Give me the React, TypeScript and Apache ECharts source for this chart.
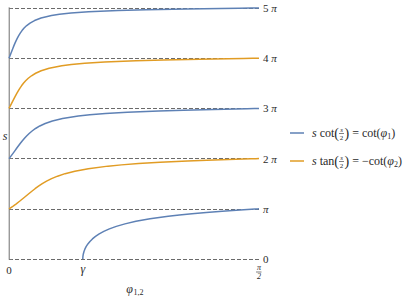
import React, { useEffect, useRef } from "react";
import * as echarts from "echarts";

// parameter u: fraction of the way through each branch (s = (k + u) * π)
const uSteps = [0, 0.02, 0.05, 0.1, 0.15, 0.2, 0.25, 0.3, 0.35, 0.4, 0.45, 0.5, 0.55, 0.6, 0.65, 0.7, 0.75, 0.8, 0.85, 0.875, 0.9, 0.925, 0.95, 0.965, 0.98, 0.99, 0.995, 0.998, 1];

// φ values (radians) read for each branch
const phiBlue0 = [0.46365, 0.46378, 0.46447, 0.46696, 0.47119, 0.47726, 0.48532, 0.49562, 0.50844, 0.52421, 0.54348, 0.56691, 0.59555, 0.63071, 0.67421, 0.72863, 0.79756, 0.88615, 1.00071, 1.07042, 1.14976, 1.23952, 1.3401, 1.40548, 1.47435, 1.52198, 1.54625, 1.56095, 1.570796];
const phiOrange1 = [0, 0.00981, 0.02385, 0.0458, 0.06636, 0.08598, 0.10509, 0.12412, 0.1435, 0.16371, 0.18534, 0.20911, 0.23597, 0.26728, 0.30499, 0.35217, 0.41377, 0.49842, 0.62187, 0.70647, 0.81346, 0.94967, 1.12154, 1.2433, 1.37775, 1.4729, 1.52161, 1.55108, 1.570796];
const phiBlue2 = [0, 0.00495, 0.01222, 0.024, 0.03553, 0.04698, 0.05853, 0.0704, 0.08282, 0.09606, 0.11051, 0.12664, 0.14513, 0.16694, 0.19356, 0.22738, 0.27249, 0.33657, 0.43542, 0.50785, 0.60602, 0.74345, 0.94062, 1.0971, 1.28466, 1.42429, 1.49703, 1.54122, 1.570796];
const phiOrange3 = [0, 0.00331, 0.00821, 0.01626, 0.02426, 0.03231, 0.04055, 0.04911, 0.05816, 0.06791, 0.07864, 0.0907, 0.1046, 0.1211, 0.14136, 0.16727, 0.20213, 0.25231, 0.33177, 0.39164, 0.47583, 0.60072, 0.79722, 0.96986, 1.19639, 1.37637, 1.47254, 1.53136, 1.570796];
const phiBlue4 = [0, 0.00249, 0.00619, 0.0123, 0.01841, 0.02462, 0.03101, 0.0377, 0.04481, 0.05251, 0.06102, 0.07062, 0.08173, 0.09496, 0.11125, 0.13214, 0.16039, 0.20133, 0.26688, 0.31672, 0.38922, 0.49982, 0.68492, 0.86145, 1.11384, 1.32934, 1.44816, 1.52151, 1.570796];

const yTicks = [0, 1, 2, 3, 4, 5];
const GAMMA = 0.4636476;
const xTicks = [0, GAMMA, Math.PI / 2];

const BLUE = "#5e81b5";
const ORANGE = "#e19c24";
const SERIF = "Liberation Serif";
const TXT = "#2a2a2a";

function branch(phi: number[], k: number) {
  return phi.map((p, i) => [p, k + uSteps[i]]);
}

let measureCtx: CanvasRenderingContext2D | null = null;
function tw(text: string, size: number, italic: boolean) {
  if (!measureCtx) measureCtx = document.createElement("canvas").getContext("2d");
  if (!measureCtx) return text.length * size * 0.5;
  measureCtx.font = `${italic ? "italic " : ""}${size}px "${SERIF}"`;
  return measureCtx.measureText(text).width;
}

type Piece = { t?: string; size?: number; italic?: boolean; dy?: number; frac?: boolean };

function txt(x: number, y: number, text: string, size: number, italic: boolean, align = "left") {
  return {
    type: "text",
    x,
    y,
    style: {
      text,
      fontSize: size,
      fontFamily: SERIF,
      fontStyle: italic ? "italic" : "normal",
      fill: TXT,
      align,
      verticalAlign: "middle",
    },
  };
}

function legendItem(y: number, color: string, pieces: Piece[]) {
  const els: any[] = [
    { type: "line", shape: { x1: 290, y1: y, x2: 304, y2: y }, style: { stroke: color, lineWidth: 1.5 } },
  ];
  let x = 312;
  for (const p of pieces) {
    if (p.frac) {
      const fw = 5;
      els.push(txt(x + fw / 2, y - 3.5, "s", 7, true, "center"));
      els.push({ type: "line", shape: { x1: x, y1: y + 0.5, x2: x + fw, y2: y + 0.5 }, style: { stroke: TXT, lineWidth: 0.6 } });
      els.push(txt(x + fw / 2, y + 4.5, "2", 7, false, "center"));
      x += fw + 0.5;
    } else {
      const size = p.size || 12;
      const italic = !!p.italic;
      els.push(txt(x, y + (p.dy || 0), p.t || "", size, italic));
      x += tw(p.t || "", size, italic);
    }
  }
  return els;
}

export default function App() {
  const ref = useRef<HTMLDivElement>(null);
  useEffect(() => {
    if (!ref.current) return;
    const chart = echarts.init(ref.current, null, { renderer: "svg" });
    const lineSeries = (data: number[][], color: string) => ({
      type: "line",
      data,
      showSymbol: false,
      symbol: "none",
      clip: false,
      lineStyle: { color, width: 1.5, join: "round" },
      itemStyle: { color },
      z: 3,
    });
    const legend1 = legendItem(133, BLUE, [
      { t: "s", italic: true },
      { t: " cot" },
      { t: "(", size: 14 },
      { frac: true },
      { t: ")", size: 14 },
      { t: " = cot(" },
      { t: "φ", italic: true },
      { t: "1", size: 8, dy: 3 },
      { t: ")" },
    ]);
    const legend2 = legendItem(161, ORANGE, [
      { t: "s", italic: true },
      { t: " tan" },
      { t: "(", size: 14 },
      { frac: true },
      { t: ")", size: 14 },
      { t: " = −cot(" },
      { t: "φ", italic: true },
      { t: "2", size: 8, dy: 3 },
      { t: ")" },
    ]);
    chart.setOption({
      animation: false,
      textStyle: { fontFamily: SERIF },
      grid: { left: 9, top: 8, width: 250, height: 251, containLabel: false },
      xAxis: {
        type: "value",
        min: 0,
        max: Math.PI / 2,
        axisLine: { show: false },
        axisTick: { show: false },
        splitLine: { show: false },
        axisLabel: {
          customValues: xTicks,
          margin: 4,
          color: TXT,
          fontFamily: SERIF,
          formatter: (v: number) => {
            if (Math.abs(v) < 1e-9) return "{z|0}";
            if (Math.abs(v - GAMMA) < 1e-4) return "{g|γ}";
            return "{f|π}\n{f|2}";
          },
          rich: {
            z: { fontSize: 11, lineHeight: 13, fontFamily: SERIF, color: TXT },
            g: { fontSize: 12, lineHeight: 12, fontStyle: "italic", fontFamily: SERIF, color: TXT },
            f: { fontSize: 8, lineHeight: 9, fontFamily: SERIF, color: TXT, fontStyle: "italic" },
          },
        },
      },
      yAxis: [
        {
          type: "value",
          position: "right",
          min: 0,
          max: 5,
          interval: 1,
          axisLine: { show: true, lineStyle: { color: "#d4d4d4", width: 2 } },
          axisTick: { show: true, length: 3, lineStyle: { color: "#777" } },
          splitLine: { show: true, lineStyle: { color: "#6a6a6a", width: 1.2, type: [4, 2] } },
          axisLabel: {
            margin: 4,
            color: TXT,
            fontFamily: SERIF,
            fontSize: 11,
            formatter: (v: number) => {
              if (v === 0) return "{n|0}";
              if (v === 1) return "{p|π}";
              return `{n|${v}} {p|π}`;
            },
            rich: {
              n: { fontSize: 11, lineHeight: 9, fontFamily: SERIF, color: TXT },
              p: { fontSize: 11, lineHeight: 9, fontFamily: SERIF, color: TXT, fontStyle: "italic" },
            },
          },
        },
        {
          type: "value",
          position: "left",
          min: 0,
          max: 5,
          interval: 1,
          axisLine: { show: true, lineStyle: { color: "#9a9a9a", width: 1 } },
          axisTick: { show: false },
          axisLabel: { show: false },
          splitLine: { show: false },
        },
      ],
      series: [
        lineSeries(branch(phiBlue0, 0), BLUE),
        lineSeries(branch(phiOrange1, 1), ORANGE),
        lineSeries(branch(phiBlue2, 2), BLUE),
        lineSeries(branch(phiOrange3, 3), ORANGE),
        lineSeries(branch(phiBlue4, 4), BLUE),
      ],
      graphic: [
        ...legend1,
        ...legend2,
        { type: "line", shape: { x1: 256, y1: 272, x2: 261.5, y2: 272 }, style: { stroke: TXT, lineWidth: 0.6 } },
        txt(5, 136, "s", 12, true, "center"),
        txt(133, 289, "φ", 12, true, "right"),
        txt(133.5, 292, "1,2", 8, false, "left"),
      ],
    });
    return () => chart.dispose();
  }, []);
  return <div ref={ref} style={{ position: "absolute", left: 0, top: 0, width: 415, height: 300 }} />;
}
